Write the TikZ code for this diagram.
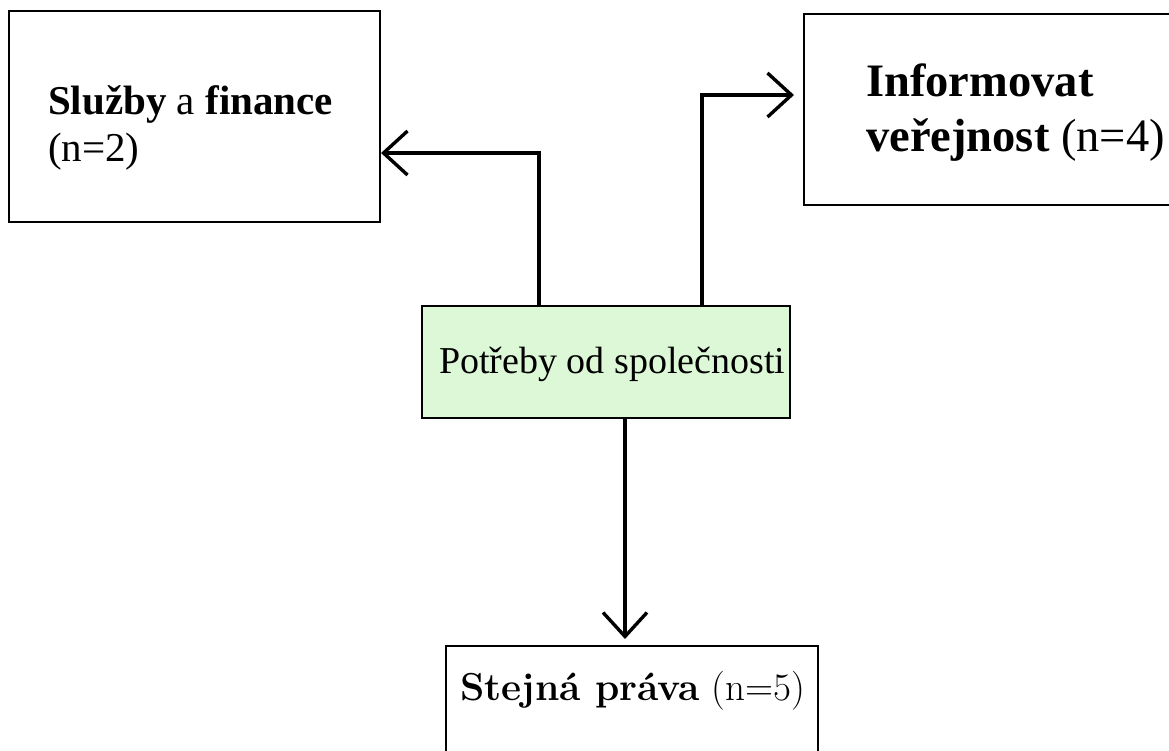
\documentclass[tikz,border=0pt]{standalone}
\usepackage{fontspec}
\newfontfamily\tnr{Liberation Serif}
\usetikzlibrary{arrows.meta}
\definecolor{boxgreen}{RGB}{221,248,214}
\tikzset{
  box/.style={draw=black, line width=2pt, rectangle, inner sep=0pt},
  arr/.style={line width=3.6pt, -{Straight Barb[length=24pt,width=44pt,line width=3.4pt]}},
  lbl/.style={anchor=base west, inner sep=0pt},
  fa/.style={font=\tnr\fontsize{41}{47}\selectfont},
  fb/.style={font=\tnr\fontsize{46.5}{55}\selectfont},
}
\begin{document}
\begin{tikzpicture}[x=1pt,y=-1pt]
\useasboundingbox (0,0) rectangle (1169,751);
\clip (0,0) rectangle (1169,751);
\fill[white] (0,0) rectangle (1169,751);
% boxes
\node[box, minimum width=371pt, minimum height=211pt] (b1) at (194.5,116.5) {};
\node[box, minimum width=371pt, minimum height=191pt] (b2) at (989.5,109.5) {};
\node[box, fill=boxgreen, minimum width=368pt, minimum height=112pt] (c) at (606,362) {};
\node[box, minimum width=372pt, minimum height=114pt] (b4) at (632,703) {};
% texts
\node[lbl, fa] (t1a) at (48,115) {\textbf{Služby} a \textbf{finance}};
\node[lbl, fa] (t1b) at (48,162) {(n=2)};
\node[lbl, fb] (t2a) at (866,97) {\textbf{Informovat}};
\node[lbl, fb] (t2b) at (866,152) {\textbf{veřejnost} (n=4)};
\node[lbl, font=\tnr\fontsize{38}{40}\selectfont] (t3) at (439,373)
  {Potřeby od společnosti};
\node[lbl, font=\fontsize{39}{40}\selectfont] (t4) at (460,700)
  {\textbf{Stejná práva} (n=5)};
% connectors
\draw[arr] ([xshift=-67pt]c.north) |- ([yshift=-36.5pt]b1.east);
\draw[arr, shorten >=9pt] ([xshift=96pt]c.north) |- ([yshift=14.5pt]b2.west);
\draw[arr, shorten >=6pt] ([xshift=19pt]c.south) -- ([xshift=19pt]c.south |- b4.north);
\end{tikzpicture}
\end{document}
